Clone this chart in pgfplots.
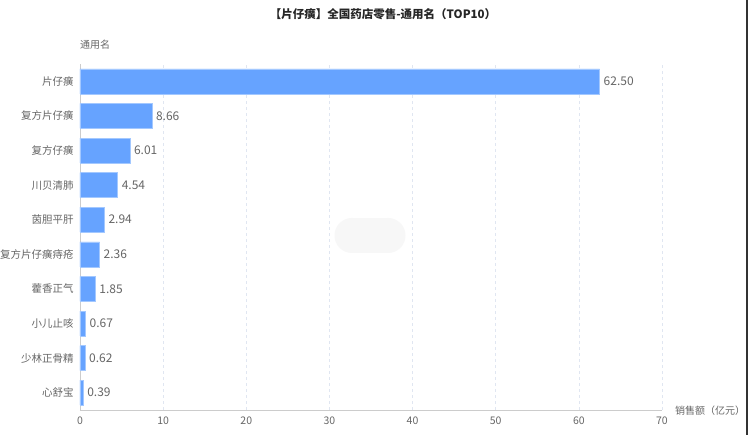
\documentclass[border=0pt]{standalone}
\usepackage{pgfplots}
\pgfplotsset{compat=1.18}
\usepackage{fontspec}
\setmainfont{Noto Sans CJK SC}
\definecolor{barc}{HTML}{66A3FF}
\definecolor{txt}{HTML}{666666}
\definecolor{axc}{HTML}{CCCCCC}
\definecolor{gridc}{HTML}{E0E6F1}
\begin{document}
\begin{tikzpicture}[x=1pt,y=1pt]
\path[use as bounding box,fill=white] (0,0) rectangle (748,435);
\fill[black!3] (352,182) rectangle (388,217);
\fill[black!3] (352,199.5) circle (17.5);
\fill[black!3] (388,199.5) circle (17.5);
\fill[black!80] (745.5,0) rectangle (748,435);
\node[font=\fontsize{11.5}{13}\selectfont\bfseries,text=black!85] at (383,421) {【片仔癀】全国药店零售-通用名（TOP10）};
\node[font=\fontsize{10}{12}\selectfont,text=txt,anchor=west,inner sep=0] at (80,390) {通用名};
\node[font=\fontsize{10}{12}\selectfont,text=txt,anchor=west,inner sep=0] at (675,24) {销售额（亿元）};
\begin{axis}[
  at={(80pt,25pt)}, anchor=south west,
  scale only axis, width=582pt, height=346pt,
  xbar, bar width=0.72,
  xmin=0, xmax=70, ymin=-0.5, ymax=9.5,
  xtick={0,10,...,70},
  ytick={0,...,9},
  yticklabels={心舒宝,少林正骨精,小儿止咳,藿香正气,复方片仔癀痔疮,茵胆平肝,川贝清肺,复方仔癀,复方片仔癀,片仔癀},
  extra y ticks={-0.5,0.5,...,9.5},
  extra y tick labels={},
  extra y tick style={major tick length=5pt, tick align=outside, tick style={draw=axc, line width=0.8pt}, grid=none},
  ytick style={draw=none},
  xtick style={draw=none},
  axis x line*=bottom, axis y line*=left,
  axis line style={draw=axc, line width=0.8pt, -},
  xmajorgrids, grid style={draw=gridc, dashed, line width=0.6pt},
  ticklabel style={font=\fontsize{10.5}{12}\selectfont, text=txt},
  yticklabel style={xshift=1.5pt},
  xticklabel style={yshift=-3pt},
  /pgf/number format/assume math mode=true,
  point meta=x,
  nodes near coords={\pgfmathprintnumber[fixed,fixed zerofill,precision=2,assume math mode=true]{\pgfplotspointmeta}},
  nodes near coords style={font=\fontsize{12}{14}\selectfont, text=txt, anchor=west, xshift=0.5pt},
  clip=false,
]
\addplot[fill=barc, draw=barc!60!white, line width=0.5pt] coordinates {
(0.39,0) (0.62,1) (0.67,2) (1.85,3) (2.36,4) (2.94,5) (4.54,6) (6.01,7) (8.66,8) (62.50,9)
};
\end{axis}
\end{tikzpicture}
\end{document}
